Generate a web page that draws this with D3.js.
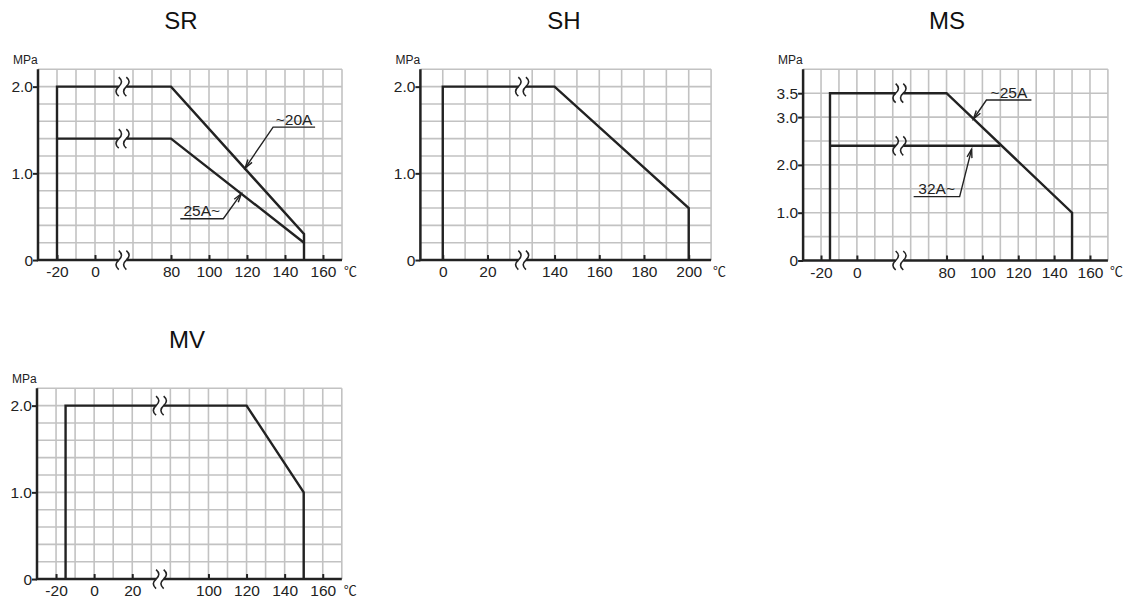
<!DOCTYPE html>
<html>
<head>
<meta charset="utf-8">
<script src="https://cdn.jsdelivr.net/npm/d3@7"></script>
<style>
  body { margin: 0; background: #fff; }
  svg { display: block; }
</style>
</head>
<body>
<svg id="chart" width="1139" height="602"></svg>
<script>
// values (temperature in °C, pressure in MPa)

// SR
const srXDomain = [-30, 0, 80, 170]
const srXTicks = [-20, 0, 80, 100, 120, 140, 160]
const srYTicks = [0, 1.0, 2.0]
const srSmallTemp = [-20, -20, 80, 150, 150]
const srSmallPress = [0, 2.0, 2.0, 0.3, 0]
const srLargeTemp = [-20, 80, 150]
const srLargePress = [1.4, 1.4, 0.2]
const srNotes = ["~20A", "25A~"]

// SH
const shXDomain = [-10, 20, 140, 210]
const shXTicks = [0, 20, 140, 160, 180, 200]
const shYTicks = [0, 1.0, 2.0]
const shTemp = [0, 0, 140, 200, 200]
const shPress = [0, 2.0, 2.0, 0.6, 0]

// MS
const msXDomain = [-30, 0, 80, 170]
const msXTicks = [-20, 0, 80, 100, 120, 140, 160]
const msYTicks = [0, 1.0, 2.0, 3.0, 3.5]
const msSmallTemp = [-15, -15, 80, 150, 150]
const msSmallPress = [0, 3.5, 3.5, 1.0, 0]
const msLargeTemp = [-15, 110]
const msLargePress = [2.4, 2.4]
const msNotes = ["~25A", "32A~"]

// MV
const mvXDomain = [-30, 20, 100, 170]
const mvXTicks = [-20, 0, 20, 100, 120, 140, 160]
const mvYTicks = [0, 1.0, 2.0]
const mvTemp = [-15, -15, 120, 150, 150]
const mvPress = [0, 2.0, 2.0, 1.0, 0]

const zip = (a, b) => a.map((v, i) => [v, b[i]])

// layout of the four panels
const charts = [
  { title: "SR", titleX: 181, left: 38, top: 69.3, cellW: 19, cellH: 17.34,
    xDomain: srXDomain, xCells: [0, 3, 7, 16], breakAt: 29, yMax: 2.2, yStep: 0.2,
    xTicks: srXTicks, yTicks: srYTicks,
    series: [zip(srSmallTemp, srSmallPress), zip(srLargeTemp, srLargePress)],
    notes: [
      { text: srNotes[0], tip: [119, 1.06], dx: 28, dy: -41, len: 42 },
      { text: srNotes[1], tip: [117, 0.765], dx: -18, dy: 25, len: -43 }
    ] },
  { title: "SH", titleX: 564, left: 420.4, top: 69.3, cellW: 22.36, cellH: 17.34,
    xDomain: shXDomain, xCells: [0, 3, 6, 13], breakAt: 82, yMax: 2.2, yStep: 0.2,
    xTicks: shXTicks, yTicks: shYTicks,
    series: [zip(shTemp, shPress)], notes: [] },
  { title: "MS", titleX: 947, left: 803.1, top: 69.3, cellW: 17.93, cellH: 23.9,
    xDomain: msXDomain, xCells: [0, 3, 8, 17], breakAt: 38, yMax: 4.0, yStep: 0.5,
    xTicks: msXTicks, yTicks: msYTicks,
    series: [zip(msSmallTemp, msSmallPress), zip(msLargeTemp, msLargePress)],
    notes: [
      { text: msNotes[0], tip: [95, 2.96], dx: 13, dy: -19, len: 45 },
      { text: msNotes[1], tip: [94, 2.33], dx: -12, dy: 47.5, len: -46 }
    ] },
  { title: "MV", titleX: 187, left: 37, top: 388.3, cellW: 19.05, cellH: 17.34,
    xDomain: mvXDomain, xCells: [0, 5, 9, 16], breakAt: 49, yMax: 2.2, yStep: 0.2,
    xTicks: mvXTicks, yTicks: mvYTicks,
    series: [zip(mvTemp, mvPress)], notes: [] }
]

const ink = "#222"
const font = "'Liberation Sans', Arial, sans-serif"
const svg = d3.select("#chart")

// the "≀≀" mark where the temperature axis is broken
function breakMark(g, cx, cy) {
    const m = g.append("g").attr("transform", "translate(" + cx + "," + cy + ")")
    m.append("rect").attr("x", -3.8).attr("y", -2.6).attr("width", 7.6).attr("height", 5.2).attr("fill", "#fff")
    ;[-3.8, 3.8].forEach(ox => {
        m.append("path")
            .attr("d", `M${ox},-9.5 Q${ox + 5.5},-4.8 ${ox},0 Q${ox - 5.5},4.8 ${ox},9.5`)
            .attr("fill", "none").attr("stroke", ink).attr("stroke-width", 1.6)
    })
}

charts.forEach(c => {
    const nCols = c.xCells[c.xCells.length - 1]
    const nRows = Math.round(c.yMax / c.yStep)
    const width = nCols * c.cellW
    const height = nRows * c.cellH

    const x = d3.scaleLinear().domain(c.xDomain).range(c.xCells.map(k => k * c.cellW))
    const y = d3.scaleLinear().domain([0, c.yMax]).range([height, 0])

    svg.append("text")
        .attr("x", c.titleX).attr("y", c.top - 40.5)
        .attr("text-anchor", "middle")
        .attr("font-family", font).attr("font-size", 24).attr("fill", "#111")
        .text(c.title)

    const g = svg.append("g").attr("transform", "translate(" + c.left + "," + c.top + ")")

    // grid
    g.append("g").selectAll("line").data(d3.range(1, nCols + 1)).join("line")
        .attr("x1", i => i * c.cellW).attr("x2", i => i * c.cellW)
        .attr("y1", 0).attr("y2", height)
        .attr("stroke", "#c2c2c2").attr("stroke-width", 1.6)
    g.append("g").selectAll("line").data(d3.range(1, nRows + 1)).join("line")
        .attr("x1", 0).attr("x2", width)
        .attr("y1", i => y(i * c.yStep)).attr("y2", i => y(i * c.yStep))
        .attr("stroke", "#c2c2c2").attr("stroke-width", 1.6)

    // axes
    g.append("g")
        .attr("transform", "translate(0," + height + ")")
        .call(d3.axisBottom(x).tickValues(c.xTicks).tickSizeInner(-5).tickSizeOuter(0)
            .tickPadding(6).tickFormat(d => String(d)))
        .call(a => a.select(".domain").remove())
        .call(a => a.selectAll("line").attr("stroke", ink).attr("stroke-width", 2))
        .call(a => a.selectAll("text").attr("fill", ink))
        .attr("font-family", font).attr("font-size", 15.5)

    g.append("g")
        .call(d3.axisLeft(y).tickValues(c.yTicks).tickSizeInner(5).tickSizeOuter(0)
            .tickPadding(0).tickFormat(d => d === 0 ? "0" : d.toFixed(1)))
        .call(a => a.select(".domain").remove())
        .call(a => a.selectAll("line").attr("stroke", ink).attr("stroke-width", 2))
        .call(a => a.selectAll("text").attr("fill", ink))
        .attr("font-family", font).attr("font-size", 15.5)

    g.append("path")
        .attr("d", `M0,0V${height}H${width}`)
        .attr("fill", "none").attr("stroke", ink).attr("stroke-width", 2.5)

    g.append("text").attr("x", -25).attr("y", -5)
        .attr("font-family", font).attr("font-size", 12).attr("fill", ink)
        .text("MPa")
    g.append("text").attr("x", width + 2).attr("y", height + 16)
        .attr("font-family", "'Noto Sans CJK JP', 'DejaVu Sans', sans-serif")
        .attr("font-size", 13).attr("fill", ink)
        .text("℃")

    // pressure / temperature limits
    const line = d3.line().x(d => x(d[0])).y(d => y(d[1]))
    c.series.forEach(s => {
        g.append("path").datum(s)
            .attr("d", line)
            .attr("fill", "none").attr("stroke", ink).attr("stroke-width", 2.4)
            .attr("stroke-linejoin", "miter")
        for (let i = 1; i < s.length; i++) {
            if (s[i][1] === s[i - 1][1] && s[i - 1][0] < c.breakAt && s[i][0] > c.breakAt)
                breakMark(g, x(c.breakAt), y(s[i][1]))
        }
    })
    breakMark(g, x(c.breakAt), y(0))

    // size callouts
    c.notes.forEach(n => {
        const tx = x(n.tip[0]), ty = y(n.tip[1])
        const ex = tx + n.dx, ey = ty + n.dy
        g.append("path")
            .attr("d", `M${ex + n.len},${ey}H${ex}L${tx},${ty}`)
            .attr("fill", "none").attr("stroke", ink).attr("stroke-width", 1.4)
        const ang = Math.atan2(ty - ey, tx - ex)
        const head = [-0.28, 0.28].map(da => [tx - 9 * Math.cos(ang + da), ty - 9 * Math.sin(ang + da)])
        g.append("path")
            .attr("d", `M${head[0][0]},${head[0][1]}L${tx},${ty}L${head[1][0]},${head[1][1]}`)
            .attr("fill", "none").attr("stroke", ink).attr("stroke-width", 1.4)
        g.append("text")
            .attr("x", ex + n.len / 2).attr("y", ey - 2.5)
            .attr("text-anchor", "middle")
            .attr("font-family", font).attr("font-size", 15.5).attr("fill", ink)
            .text(n.text)
    })
})
</script>
</body>
</html>
